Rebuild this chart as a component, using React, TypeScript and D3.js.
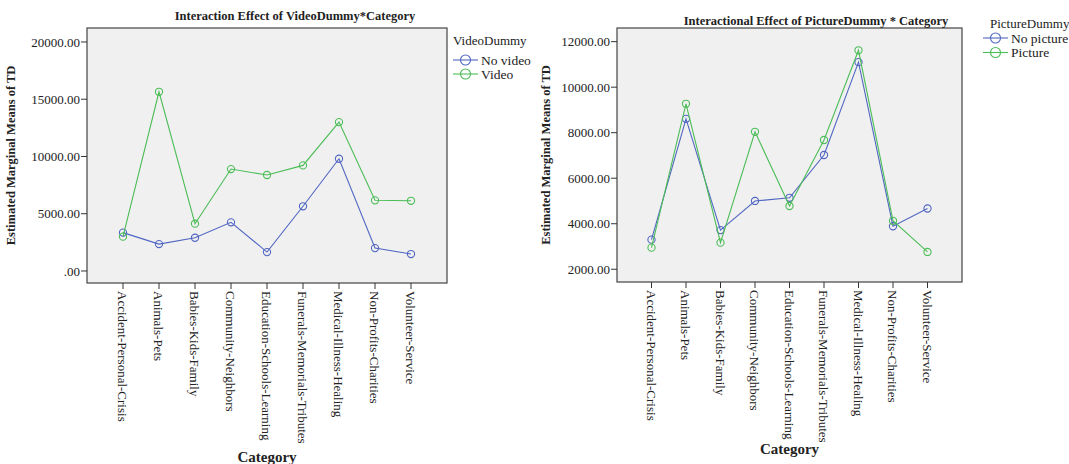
import React from "react";
import * as d3 from "d3";

const categories = [
  "Accident-Personal-Crisis",
  "Animals-Pets",
  "Babies-Kids-Family",
  "Community-Neighbors",
  "Education-Schools-Learning",
  "Funerals-Memorials-Tributes",
  "Medical-Illness-Healing",
  "Non-Profits-Charities",
  "Volunteer-Service",
];

const noVideo = [3350, 2350, 2900, 4250, 1650, 5650, 9800, 2000, 1480];
const video = [3000, 15650, 4130, 8900, 8380, 9220, 13000, 6170, 6130];
const leftTicks = [0, 5000, 10000, 15000, 20000];

const noPicture = [3300, 8610, 3720, 5000, 5140, 7020, 11100, 3890, 4670];
const picture = [2950, 9270, 3170, 8040, 4780, 7680, 11620, 4130, 2760];
const rightTicks = [2000, 4000, 6000, 8000, 10000, 12000];

const BLUE = "#5066c2";
const GREEN = "#4cbd57";
const FONT = "'Liberation Serif', 'Times New Roman', serif";

type Series = { name: string; values: number[]; color: string };

type PanelProps = {
  box: { x0: number; x1: number; y0: number; y1: number };
  yDomain: [number, number];
  ticks: number[];
  series: Series[];
  title: string;
  titleX: number;
  titleY: number;
  legendTitle: string;
  legendX: number;
  legendY: number;
  symbolX: number;
  rowY0: number;
  rowStep: number;
  yLabelX: number;
  xLabelY: number;
};

function fmt(v: number) {
  if (v === 0) return ".00";
  return d3.format(".2f")(v);
}

function Panel(p: PanelProps) {
  const { box } = p;
  const x = d3.scalePoint<string>().domain(categories).range([box.x0, box.x1]).padding(1);
  const y = d3.scaleLinear().domain(p.yDomain).range([box.y1, box.y0]);
  const line = d3
    .line<number>()
    .x((_, i) => x(categories[i]) as number)
    .y((v) => y(v));
  const cx = (box.x0 + box.x1) / 2;
  const cy = (box.y0 + box.y1) / 2;
  return (
    <g>
      <rect x={box.x0} y={box.y0} width={box.x1 - box.x0} height={box.y1 - box.y0} fill="#f0f0f0" stroke="#444" strokeWidth={1.2} />
      {p.ticks.map((t) => (
        <g key={t}>
          <line x1={box.x0 - 6} x2={box.x0} y1={y(t)} y2={y(t)} stroke="#333" />
          <text x={box.x0 - 7} y={y(t)} dy="0.35em" textAnchor="end" fontSize={13} fontFamily={FONT} fill="#222">
            {fmt(t)}
          </text>
        </g>
      ))}
      {categories.map((c) => (
        <g key={c}>
          <line x1={x(c)} x2={x(c)} y1={box.y1} y2={box.y1 + 6} stroke="#333" />
          <text
            transform={`translate(${(x(c) as number)},${box.y1 + 8}) rotate(90)`}
            dy="0.35em"
            textAnchor="start"
            fontSize={13}
            fontFamily={FONT}
            fill="#222"
          >
            {c}
          </text>
        </g>
      ))}
      {p.series.map((s) => (
        <g key={s.name}>
          <path d={line(s.values) as string} fill="none" stroke={s.color} strokeWidth={1.1} />
          {s.values.map((v, i) => (
            <circle key={i} cx={x(categories[i])} cy={y(v)} r={3.6} fill="none" stroke={s.color} strokeWidth={1.1} />
          ))}
        </g>
      ))}
      <text x={p.titleX} y={p.titleY} textAnchor="middle" fontSize={12.5} fontWeight="bold" fontFamily={FONT} fill="#222">
        {p.title}
      </text>
      <text
        transform={`translate(${p.yLabelX},${cy}) rotate(-90)`}
        textAnchor="middle"
        dy="0.35em"
        fontSize={12.5}
        fontWeight="bold"
        fontFamily={FONT}
        fill="#222"
      >
        Estimated Marginal Means of TD
      </text>
      <text x={cx} y={p.xLabelY} textAnchor="middle" fontSize={15} fontWeight="bold" fontFamily={FONT} fill="#222">
        Category
      </text>
      <text x={p.legendX} y={p.legendY} fontSize={13} fontFamily={FONT} fill="#222">
        {p.legendTitle}
      </text>
      {p.series.map((s, i) => {
        const ly = p.rowY0 + p.rowStep * i;
        return (
          <g key={s.name}>
            <line x1={p.symbolX} x2={p.symbolX + 25} y1={ly} y2={ly} stroke={s.color} strokeWidth={1.1} />
            <circle cx={p.symbolX + 12.5} cy={ly} r={5} fill="none" stroke={s.color} strokeWidth={1.1} />
            <text x={p.symbolX + 28} y={ly} dy="0.35em" fontSize={13.5} fontFamily={FONT} fill="#222">
              {s.name}
            </text>
          </g>
        );
      })}
    </g>
  );
}

export default function App() {
  return (
    <div style={{ position: "absolute", left: 0, top: 0 }}>
      <svg width={1069} height={464} style={{ display: "block", background: "#fff" }}>
        <Panel
          box={{ x0: 87, x1: 447, y0: 28, y1: 283 }}
          yDomain={[-1050, 21220]}
          ticks={leftTicks}
          series={[
            { name: "No video", values: noVideo, color: BLUE },
            { name: "Video", values: video, color: GREEN },
          ]}
          title="Interaction Effect of VideoDummy*Category"
          titleX={295}
          titleY={20}
          legendTitle="VideoDummy"
          legendX={453}
          legendY={45}
          symbolX={453}
          rowY0={60}
          rowStep={14}
          yLabelX={11}
          xLabelY={462}
        />
        <Panel
          box={{ x0: 617, x1: 962, y0: 28, y1: 282 }}
          yDomain={[1440, 12600]}
          ticks={rightTicks}
          series={[
            { name: "No picture", values: noPicture, color: BLUE },
            { name: "Picture", values: picture, color: GREEN },
          ]}
          title="Interactional Effect of PictureDummy * Category"
          titleX={816}
          titleY={25}
          legendTitle="PictureDummy"
          legendX={990}
          legendY={28}
          symbolX={983}
          rowY0={38}
          rowStep={14.5}
          yLabelX={546}
          xLabelY={454}
        />
      </svg>
    </div>
  );
}
